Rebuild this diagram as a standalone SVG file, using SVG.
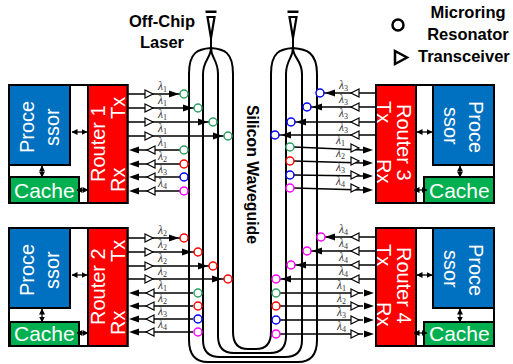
<svg xmlns="http://www.w3.org/2000/svg" width="513" height="364" viewBox="0 0 513 364">
<style>
text{font-family:"Liberation Sans",Arial,sans-serif}
.b{font-weight:bold;font-size:16.5px;fill:#000}
.w{font-size:20px;fill:#fff}
.box{stroke:#000;stroke-width:2}
.p{fill:#0070c0}.c{fill:#00b050}.r{fill:#f00}
.wg{fill:none;stroke:#000;stroke-width:2}
.l{stroke:#000;stroke-width:1.4;fill:none}
.t{fill:#fff;stroke:#000;stroke-width:1.2}
.a{fill:#000}
.g,.e,.u,.m{fill:#fff;stroke-width:1.5}
.g{stroke:#2f9e63}.e{stroke:#f00}.u{stroke:#00f}.m{stroke:#f0f}
.la{font-family:"Liberation Serif",serif;font-style:italic;font-size:11.5px;fill:#333}
.la tspan{font-size:8px;font-style:normal}
.d{stroke:#000;stroke-width:1.3;fill:none;marker-start:url(#h);marker-end:url(#h)}
</style>
<defs>
<marker id="h" viewBox="0 0 6 6" refX="5.5" refY="3" markerWidth="6" markerHeight="6" markerUnits="userSpaceOnUse" orient="auto-start-reverse"><path d="M0,0L6,3L0,6Z" fill="#000"/></marker>
<polygon id="tri" class="t" points="0,-4 8,0 0,4"/>
<polygon id="arr" class="a" points="0,-3.5 10,0 0,3.5"/>
<g id="grating"><rect x="-5.5" y="10.5" width="11" height="2.5" fill="#000"/><path d="M-3.5,17H3.5L0,38Z" fill="#fff" stroke="#000" stroke-width="2.2"/><path d="M0,36V48" stroke="#000" stroke-width="2"/></g>
</defs>
<rect width="513" height="364" fill="#fff"/>

<g id="waveguides">
<use href="#grating" x="211"/><use href="#grating" x="293"/>
<path class="wg" d="M211,48C198,49 189,52 189,74V340Q189,362 208,362H298Q317,362 317,340V74C317,52 306,49 293,48C280,49 271,52 271,74V332Q271,349 256,349H248Q233,349 233,332V74C233,52 224,49 211,48Z"/>
<path class="wg" d="M211,48C211,58 203,60 203,74V340Q203,357 220,357H285Q302,357 302,340V74C302,60 293,58 293,48C293,58 286,60 286,74V336Q286,353 270,353H234Q218,353 218,336V74C218,60 211,58 211,48Z"/>
</g>

<g id="legend">
<circle cx="398" cy="25" r="5.5" fill="#fff" stroke="#000" stroke-width="2.5"/>
<polygon points="395,51 407,57.5 395,64" fill="#fff" stroke="#000" stroke-width="2.5"/>
<text class="b" x="468" y="18" text-anchor="middle">Microring</text>
<text class="b" x="468" y="40" text-anchor="middle">Resonator</text>
<text class="b" x="418" y="62">Transceiver</text>
<text class="b" x="162" y="27" text-anchor="middle">Off-Chip</text>
<text class="b" x="162" y="48" text-anchor="middle">Laser</text>
<text class="b" transform="translate(247,105) rotate(90)" style="font-size:15.8px">Silicon Waveguide</text>
</g>

<g id="connectors">
<g id="r1-links">
<path class="l" d="M128,94H180M128,108H194M128,122H209M128,136H224M139,150H180M139,164H180M139,177H180M139,191H180"/>
<use href="#tri" x="145" y="94"/><use href="#tri" x="145" y="108"/><use href="#tri" x="145" y="122"/><use href="#tri" x="145" y="136"/>
<use href="#arr" x="169" y="94"/><use href="#arr" x="183" y="108"/><use href="#arr" x="198" y="122"/><use href="#arr" x="213" y="136"/>
<g transform="translate(292,0) scale(-1,1)"><use href="#arr" x="153" y="150"/><use href="#arr" x="153" y="164"/><use href="#arr" x="153" y="177"/><use href="#arr" x="153" y="191"/></g>
<g transform="translate(300,0) scale(-1,1)"><use href="#tri" x="145" y="150"/><use href="#tri" x="145" y="164"/><use href="#tri" x="145" y="177"/><use href="#tri" x="145" y="191"/></g>
<circle class="g" cx="184" cy="94" r="4"/><circle class="g" cx="198" cy="108" r="4"/><circle class="g" cx="213" cy="122" r="4"/><circle class="g" cx="228" cy="136" r="4"/>
<circle class="g" cx="184" cy="150" r="4"/><circle class="e" cx="184" cy="164" r="4"/><circle class="u" cx="184" cy="177" r="4"/><circle class="m" cx="184" cy="191" r="4"/>
<text class="la" x="158" y="90">λ<tspan dy="2">1</tspan></text><text class="la" x="158" y="104">λ<tspan dy="2">1</tspan></text><text class="la" x="158" y="118">λ<tspan dy="2">1</tspan></text><text class="la" x="158" y="132">λ<tspan dy="2">1</tspan></text>
<text class="la" x="158" y="146">λ<tspan dy="2">1</tspan></text><text class="la" x="158" y="160">λ<tspan dy="2">2</tspan></text><text class="la" x="158" y="173">λ<tspan dy="2">3</tspan></text><text class="la" x="158" y="187">λ<tspan dy="2">4</tspan></text>
</g>
<g id="r2-links">
<path class="l" d="M128,238H180M128,252H194M128,266H209M128,279H224M139,293H193M139,306H193M139,319H193M139,332H193"/>
<use href="#tri" x="145" y="238"/><use href="#tri" x="145" y="252"/><use href="#tri" x="145" y="266"/><use href="#tri" x="145" y="279"/>
<use href="#arr" x="169" y="238"/><use href="#arr" x="182" y="252"/><use href="#arr" x="198" y="266"/><use href="#arr" x="212" y="279"/>
<g transform="translate(292,0) scale(-1,1)"><use href="#arr" x="153" y="293"/><use href="#arr" x="153" y="306"/><use href="#arr" x="153" y="319"/><use href="#arr" x="153" y="332"/></g>
<g transform="translate(300,0) scale(-1,1)"><use href="#tri" x="146" y="293"/><use href="#tri" x="146" y="306"/><use href="#tri" x="146" y="319"/><use href="#tri" x="146" y="332"/></g>
<circle class="e" cx="184" cy="238" r="4"/><circle class="e" cx="198" cy="252" r="4"/><circle class="e" cx="213" cy="266" r="4"/><circle class="e" cx="228" cy="279" r="4"/>
<circle class="g" cx="198" cy="293" r="4"/><circle class="e" cx="198" cy="306" r="4"/><circle class="u" cx="198" cy="319" r="4"/><circle class="m" cx="198" cy="332" r="4"/>
<text class="la" x="158" y="234">λ<tspan dy="2">2</tspan></text><text class="la" x="158" y="248">λ<tspan dy="2">2</tspan></text><text class="la" x="158" y="262">λ<tspan dy="2">2</tspan></text><text class="la" x="158" y="275">λ<tspan dy="2">2</tspan></text>
<text class="la" x="158" y="289">λ<tspan dy="2">1</tspan></text><text class="la" x="158" y="302">λ<tspan dy="2">2</tspan></text><text class="la" x="158" y="315">λ<tspan dy="2">3</tspan></text><text class="la" x="158" y="328">λ<tspan dy="2">4</tspan></text>
</g>
<g id="r3-links">
<path class="l" d="M376,93H324M376,107H311M376,122H295M376,135H279M294,147L363,150M294,161L363,163M294,175L363,176M294,188L363,190"/>
<g transform="translate(711,0) scale(-1,1)"><use href="#tri" x="352" y="93"/><use href="#tri" x="352" y="107"/><use href="#tri" x="352" y="122"/><use href="#tri" x="352" y="135"/></g>
<g transform="translate(660,0) scale(-1,1)"><use href="#arr" x="325" y="93"/><use href="#arr" x="338" y="107"/><use href="#arr" x="354" y="122"/><use href="#arr" x="369" y="135"/></g>
<use href="#tri" x="351" y="148"/><use href="#tri" x="351" y="161"/><use href="#tri" x="351" y="175"/><use href="#tri" x="351" y="188"/>
<use href="#arr" x="363" y="150"/><use href="#arr" x="363" y="163"/><use href="#arr" x="363" y="176"/><use href="#arr" x="363" y="190"/>
<circle class="u" cx="320" cy="93" r="4"/><circle class="u" cx="307" cy="107" r="4"/><circle class="u" cx="291" cy="122" r="4"/><circle class="u" cx="275" cy="135" r="4"/>
<circle class="g" cx="290" cy="147" r="4"/><circle class="e" cx="290" cy="161" r="4"/><circle class="u" cx="290" cy="175" r="4"/><circle class="m" cx="290" cy="188" r="4"/>
<text class="la" x="339" y="89">λ<tspan dy="2">3</tspan></text><text class="la" x="339" y="103">λ<tspan dy="2">3</tspan></text><text class="la" x="339" y="117">λ<tspan dy="2">3</tspan></text><text class="la" x="339" y="131">λ<tspan dy="2">3</tspan></text>
<text class="la" x="336" y="144">λ<tspan dy="2">1</tspan></text><text class="la" x="336" y="157">λ<tspan dy="2">2</tspan></text><text class="la" x="336" y="171">λ<tspan dy="2">3</tspan></text><text class="la" x="336" y="185">λ<tspan dy="2">4</tspan></text>
</g>
<g id="r4-links">
<path class="l" d="M376,237H325M376,251H311M376,265H295M376,279H280M280,293H363M280,306H363M280,320H363M280,334H363"/>
<g transform="translate(711,0) scale(-1,1)"><use href="#tri" x="352" y="237"/><use href="#tri" x="352" y="251"/><use href="#tri" x="352" y="265"/><use href="#tri" x="352" y="279"/></g>
<g transform="translate(660,0) scale(-1,1)"><use href="#arr" x="325" y="237"/><use href="#arr" x="338" y="251"/><use href="#arr" x="354" y="265"/><use href="#arr" x="369" y="279"/></g>
<use href="#tri" x="351" y="293"/><use href="#tri" x="351" y="306"/><use href="#tri" x="351" y="320"/><use href="#tri" x="351" y="334"/>
<use href="#arr" x="364" y="293"/><use href="#arr" x="364" y="306"/><use href="#arr" x="364" y="320"/><use href="#arr" x="364" y="334"/>
<circle class="m" cx="321" cy="237" r="4"/><circle class="m" cx="307" cy="251" r="4"/><circle class="m" cx="291" cy="265" r="4"/><circle class="m" cx="276" cy="279" r="4"/>
<circle class="g" cx="276" cy="293" r="4"/><circle class="e" cx="276" cy="306" r="4"/><circle class="u" cx="276" cy="320" r="4"/><circle class="m" cx="276" cy="334" r="4"/>
<text class="la" x="339" y="233">λ<tspan dy="2">4</tspan></text><text class="la" x="339" y="247">λ<tspan dy="2">4</tspan></text><text class="la" x="339" y="261">λ<tspan dy="2">4</tspan></text><text class="la" x="339" y="275">λ<tspan dy="2">4</tspan></text>
<text class="la" x="337" y="289">λ<tspan dy="2">1</tspan></text><text class="la" x="337" y="302">λ<tspan dy="2">2</tspan></text><text class="la" x="337" y="316">λ<tspan dy="2">3</tspan></text><text class="la" x="337" y="330">λ<tspan dy="2">4</tspan></text>
</g>
</g>

<g id="router1-node">
<rect class="box" fill="#fff" x="9" y="85" width="118.500" height="118"/>
<rect class="box p" x="9" y="85" width="61" height="80"/>
<rect class="box c" x="10" y="177" width="69" height="26"/>
<rect class="box r" x="88" y="85" width="39.500" height="118"/>
<text class="w" transform="translate(34,153) rotate(-90)">Proce</text>
<text class="w" transform="translate(59,146) rotate(-90)">ssor</text>
<text class="w" x="14" y="198" style="font-size:21px">Cache</text>
<text class="w" transform="translate(105,182) rotate(-90)">Router 1</text>
<text class="w" transform="translate(125,119) rotate(-90)">Tx</text>
<text class="w" transform="translate(125,192) rotate(-90)">Rx</text>
</g>
<g id="router2-node">
<rect class="box" fill="#fff" x="9" y="228" width="118.500" height="118"/>
<rect class="box p" x="9" y="228" width="61" height="80"/>
<rect class="box c" x="10" y="322" width="69" height="24"/>
<rect class="box r" x="88" y="228" width="39.500" height="118"/>
<text class="w" transform="translate(34,296) rotate(-90)">Proce</text>
<text class="w" transform="translate(59,289) rotate(-90)">ssor</text>
<text class="w" x="14" y="341" style="font-size:21px">Cache</text>
<text class="w" transform="translate(105,325) rotate(-90)">Router 2</text>
<text class="w" transform="translate(125,262) rotate(-90)">Tx</text>
<text class="w" transform="translate(125,335) rotate(-90)">Rx</text>
</g>
<g id="router3-node">
<rect class="box" fill="#fff" x="376" y="85" width="118" height="118"/>
<rect class="box p" x="433" y="85" width="61" height="80"/>
<rect class="box c" x="424" y="177" width="70" height="26"/>
<rect class="box r" x="376" y="85" width="40" height="118"/>
<text class="w" transform="translate(469,101) rotate(90)">Proce</text>
<text class="w" transform="translate(444,107) rotate(90)">ssor</text>
<text class="w" x="429" y="198" style="font-size:21px">Cache</text>
<text class="w" transform="translate(397,104) rotate(90)">Router 3</text>
<text class="w" transform="translate(377,101) rotate(90)">Tx</text>
<text class="w" transform="translate(377,159) rotate(90)">Rx</text>
</g>
<g id="router4-node">
<rect class="box" fill="#fff" x="376" y="228" width="118" height="118"/>
<rect class="box p" x="433" y="228" width="61" height="80"/>
<rect class="box c" x="424" y="322" width="70" height="24"/>
<rect class="box r" x="376" y="228" width="40" height="118"/>
<text class="w" transform="translate(469,244) rotate(90)">Proce</text>
<text class="w" transform="translate(444,250) rotate(90)">ssor</text>
<text class="w" x="429" y="341" style="font-size:21px">Cache</text>
<text class="w" transform="translate(397,247) rotate(90)">Router 4</text>
<text class="w" transform="translate(377,244) rotate(90)">Tx</text>
<text class="w" transform="translate(377,302) rotate(90)">Rx</text>
</g>
<g id="node-links">
<path class="d" d="M72,132H87"/><path class="d" d="M42,166V177"/><path class="d" d="M77,190H88"/>
<path class="d" d="M72,275H87"/><path class="d" d="M42,309V322"/><path class="d" d="M77,333H88"/>
<path class="d" d="M417,132H432"/><path class="d" d="M460,166V177"/><path class="d" d="M414,190H427"/>
<path class="d" d="M417,275H432"/><path class="d" d="M460,309V322"/><path class="d" d="M414,333H427"/>
</g>
</svg>
